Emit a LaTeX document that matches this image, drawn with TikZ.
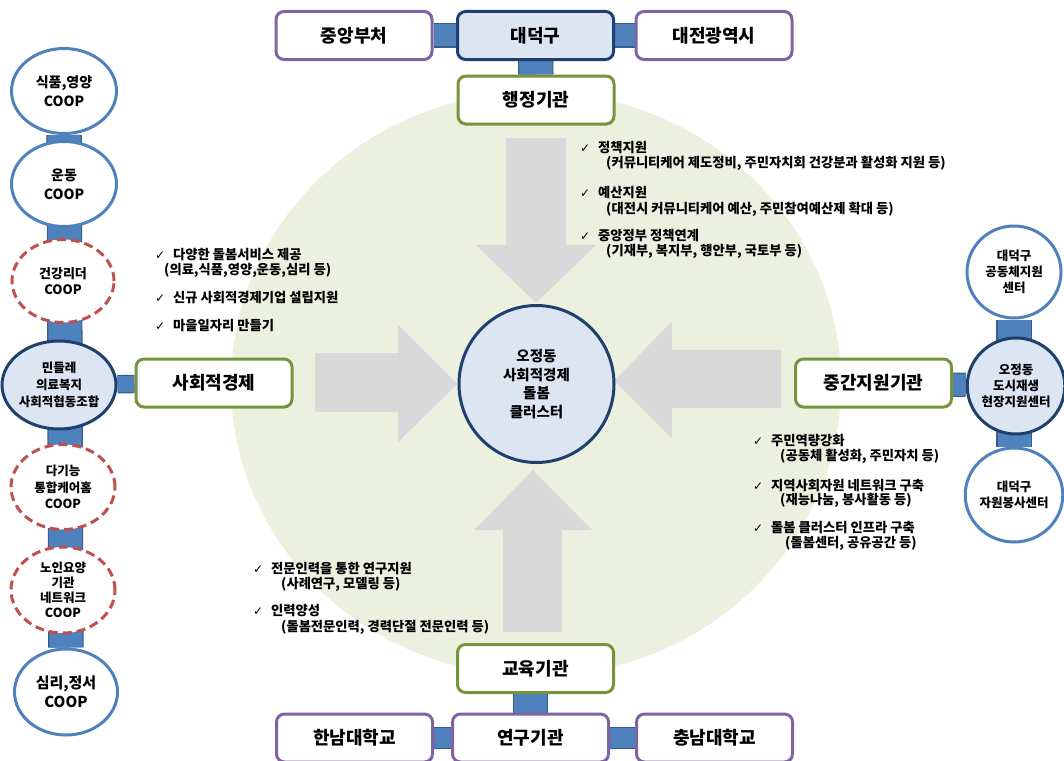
\documentclass[tikz,border=0pt]{standalone}
\usepackage{fontspec}
\setmainfont{Noto Sans CJK KR}
\newfontfamily\symf{DejaVu Sans}
\usetikzlibrary{shapes.geometric}
\definecolor{purp}{HTML}{8064A2}
\definecolor{grn}{HTML}{77933C}
\definecolor{navy}{HTML}{1F3F6E}
\definecolor{lblue}{HTML}{DCE6F2}
\definecolor{barfill}{HTML}{4F81BD}
\definecolor{barline}{HTML}{385D8A}
\definecolor{cblue}{HTML}{4F81BD}
\definecolor{cred}{HTML}{C0504D}
\definecolor{agray}{HTML}{D9D9D9}
\definecolor{bgreen}{HTML}{EBF1DE}
\pgfdeclarelayer{back}
\pgfdeclarelayer{mid}
\pgfsetlayers{back,mid,main}
\newcommand{\ck}{\makebox[18pt][l]{\symf\fontsize{12}{12}\selectfont ✓}}
\begin{document}
\begin{tikzpicture}[x=1pt,y=-1pt,
  box/.style={rectangle, rounded corners=8pt, line width=3pt, fill=white,
    minimum width=156pt, minimum height=48pt, inner sep=0pt,
    font=\fontsize{18}{20}\selectfont\bfseries},
  pbox/.style={box, draw=purp},
  gbox/.style={box, draw=grn},
  nbox/.style={box, draw=navy, fill=lblue},
  coop/.style={ellipse, line width=3pt, fill=white, inner sep=0pt, align=center,
    minimum width=104pt, minimum height=86pt},
  bcoop/.style={coop, draw=cblue},
  rcoop/.style={coop, draw=cred, dash pattern=on 9pt off 5pt},
  ncoop/.style={coop, draw=navy, fill=lblue},
  f14/.style={font=\fontsize{14}{19}\selectfont\bfseries},
  f13/.style={font=\fontsize{13}{16}\selectfont\bfseries},
  f12/.style={font=\fontsize{12.5}{16}\selectfont\bfseries},
  bar/.style={draw=barline, line width=1.2pt, double=barfill},
  hbar/.style={bar, double distance=22pt},
  hbarS/.style={bar, double distance=20pt},
  lbar/.style={bar, double distance=16pt},
  vbar/.style={bar, double distance=33pt},
  bl/.style={anchor=west, inner sep=0pt, font=\fontsize{13.3}{14}\selectfont\bfseries},
  arr/.style={fill=agray, draw=none}
]
\useasboundingbox (0,0) rectangle (1064,760);
\begin{pgfonlayer}{back}
  \fill[white] (0,0) rectangle (1064,760);
  \fill[bgreen] (536,384) ellipse [x radius=305, y radius=292];
  % block arrows
  \fill[arr] (506,138) -- (566,138) -- (566,245) -- (596,245) -- (536,303) -- (476,245) -- (506,245) -- cycle;
  \fill[arr] (503,632) -- (562,632) -- (562,530) -- (592,530) -- (533,470) -- (474,530) -- (503,530) -- cycle;
  \fill[arr] (315,353) -- (398,353) -- (398,325) -- (457,384) -- (398,442) -- (398,412) -- (315,412) -- cycle;
  \fill[arr] (781,350) -- (672,350) -- (672,321) -- (614,381) -- (672,439) -- (672,408) -- (781,408) -- cycle;
\end{pgfonlayer}

% top group
\node[pbox] (jungang) at (354,35.5) {중앙부처};
\node[nbox] (daedeok) at (535.5,35.5) {대덕구};
\node[pbox] (daejeon) at (714,35.5) {대전광역시};
\node[gbox] (haengjeong) at (536,100) {행정기관};

% center
\node[ellipse, draw=navy, fill=lblue, line width=3pt, minimum width=155pt, minimum height=157pt,
  inner sep=0pt, align=center, font=\fontsize{14.5}{18.7}\selectfont\bfseries] (center) at (536.5,384)
  {오정동\\사회적경제\\돌봄\\클러스터};

% left
\node[gbox] (sahoe) at (214,383) {사회적경제};
\node[bcoop, f14, minimum width=105pt, minimum height=85pt] (c1) at (64,91) {식품,영양\\COOP};
\node[bcoop, f14, minimum width=105pt, minimum height=85pt] (c2) at (64,184) {운동\\COOP};
\node[rcoop, f13, minimum width=102pt, minimum height=83pt] (c3) at (63,281) {건강리더\\COOP};
\node[ncoop, f12, minimum width=114pt, minimum height=88pt, font=\fontsize{12.5}{17}\selectfont\bfseries] (c4) at (59,385) {민들레\\의료복지\\사회적협동조합};
\node[rcoop, f12, minimum width=104pt, minimum height=85pt, font=\fontsize{12.5}{16.5}\selectfont\bfseries] (c5) at (63,487) {다기능\\통합케어홈\\COOP};
\node[rcoop, minimum width=104pt, minimum height=86pt, font=\fontsize{12.5}{15}\selectfont\bfseries] (c6) at (63,590) {노인요양\\기관\\네트워크\\COOP};
\node[bcoop, minimum width=103pt, minimum height=86pt, font=\fontsize{15}{19}\selectfont\bfseries] (c7) at (66,692) {심리,정서\\COOP};

% right
\node[gbox] (junggan) at (873.5,383) {중간지원기관};
\node[bcoop, f12, minimum width=94pt, minimum height=92pt] (r1) at (1014,272) {대덕구\\공동체지원\\센터};
\node[ncoop, f12, minimum width=94pt, minimum height=96pt] (r2) at (1016,386) {오정동\\도시재생\\현장지원센터};
\node[bcoop, f12, minimum width=94pt, minimum height=94pt] (r3) at (1014,495) {대덕구\\자원봉사센터};

% bottom
\node[gbox] (gyoyuk) at (535.5,668.5) {교육기관};
\node[pbox] (yeongu) at (530.5,738) {연구기관};
\node[pbox] (hannam) at (354.5,738) {한남대학교};
\node[pbox] (chungnam) at (714.5,738) {충남대학교};

% connector bars
\begin{pgfonlayer}{mid}
  \draw[hbar] (jungang) -- (daedeok);
  \draw[hbar] (daedeok) -- (daejeon);
  \draw[vbar] (daedeok) -- (haengjeong);
  \draw[vbar] (c1) -- (c7);
  \draw[lbar] (c4) -- (sahoe);
  \draw[vbar] (r1) -- (r3);
  \draw[hbar] (junggan) -- (r2);
  \draw[vbar] (yeongu |- gyoyuk) -- (yeongu);
  \draw[hbarS] (hannam) -- (yeongu);
  \draw[hbarS] (yeongu) -- (chungnam);
\end{pgfonlayer}

% text: administration
\node[bl] (ta1) at (580,148) {\ck 정책지원};
\node[bl] (ta2) at (606,163.5) {(커뮤니티케어 제도정비, 주민자치회 건강분과 활성화 지원 등)};
\node[bl] (ta3) at (580,193) {\ck 예산지원};
\node[bl] (ta4) at (606,209) {(대전시 커뮤니티케어 예산, 주민참여예산제 확대 등)};
\node[bl] (ta5) at (580,236) {\ck 중앙정부 정책연계};
\node[bl] (ta6) at (606,251.5) {(기재부, 복지부, 행안부, 국토부 등)};

% text: social economy
\node[bl] (ts1) at (155,255) {\ck 다양한 돌봄서비스 제공};
\node[bl] (ts2) at (164,270) {(의료,식품,영양,운동,심리 등)};
\node[bl] (ts3) at (155,298) {\ck 신규 사회적경제기업 설립지원};
\node[bl] (ts4) at (155,326) {\ck 마을일자리 만들기};

% text: intermediate support
\node[bl] (tm1) at (753,441) {\ck 주민역량강화};
\node[bl] (tm2) at (780,456.5) {(공동체 활성화, 주민자치 등)};
\node[bl] (tm3) at (753,485.5) {\ck 지역사회자원 네트워크 구축};
\node[bl] (tm4) at (780,500.5) {(재능나눔, 봉사활동 등)};
\node[bl] (tm5) at (753,527.5) {\ck 돌봄 클러스터 인프라 구축};
\node[bl] (tm6) at (785,543) {(돌봄센터, 공유공간 등)};

% text: education
\node[bl] (te1) at (253,569) {\ck 전문인력을 통한 연구지원};
\node[bl] (te2) at (281,584.5) {(사례연구, 모델링 등)};
\node[bl] (te3) at (253,611) {\ck 인력양성};
\node[bl] (te4) at (281,627) {(돌봄전문인력, 경력단절 전문인력 등)};
\end{tikzpicture}
\end{document}
